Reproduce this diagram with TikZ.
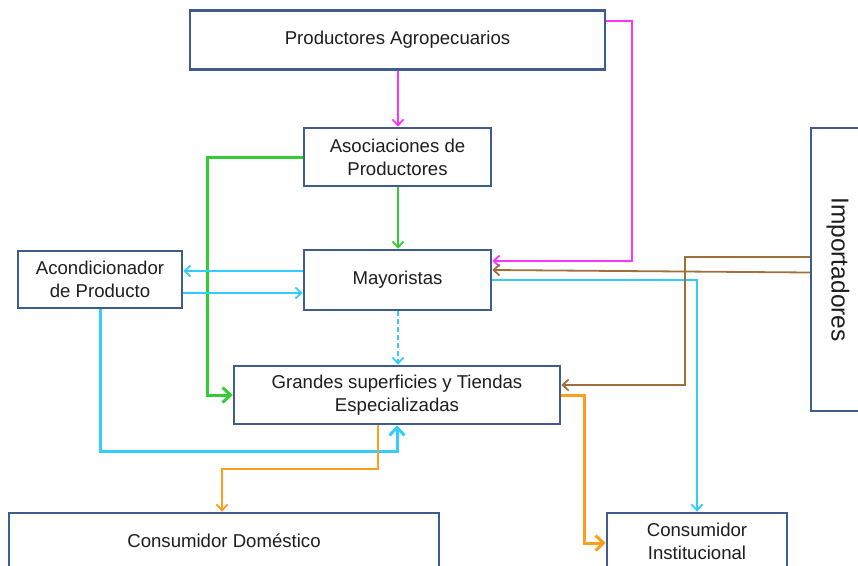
\documentclass[tikz,border=0pt]{standalone}
\usepackage{fontspec}
\setmainfont{Liberation Sans}
\usetikzlibrary{arrows.meta}
\definecolor{boxline}{RGB}{62,92,140}
\definecolor{txt}{RGB}{30,30,30}
\definecolor{mag}{RGB}{255,51,255}
\definecolor{grn}{RGB}{51,204,51}
\definecolor{cyn}{RGB}{51,204,255}
\definecolor{brn}{RGB}{160,112,60}
\definecolor{org}{RGB}{255,158,28}
\tikzset{
  box/.style={draw=boxline, line width=2.5pt, fill=white, text=txt,
    align=center, inner sep=0pt, font=\fontsize{18.6}{23}\selectfont},
  thinline/.style={line width=1.8pt, -{Straight Barb[length=6pt,width=11pt]}},
  thickline/.style={line width=3pt, -{Straight Barb[length=8pt,width=15pt]}},
}
\begin{document}
\begin{tikzpicture}[x=1pt,y=-1pt]
\useasboundingbox (0,0) rectangle (858,565);

% organisations
\node[box, minimum width=415pt, minimum height=59pt] (prod) at (397.5,40) {Productores Agropecuarios};
\node[box, minimum width=187pt, minimum height=58pt] (asoc) at (397.5,157) {Asociaciones de\\Productores};
\node[box, minimum width=187pt, minimum height=60pt] (may) at (397.5,280) {Mayoristas};
\node[box, minimum width=164pt, minimum height=57pt] (acon) at (100,279.5) {Acondicionador\\de Producto};
\node[box, minimum width=326pt, minimum height=58pt] (gran) at (397,395) {Grandes superficies y Tiendas\\Especializadas};
\node[box, minimum width=54pt, minimum height=283pt] (imp) at (838,269.5) {};
\node[text=txt, font=\fontsize{24.5}{29}\selectfont, rotate=-90] (implabel) at (imp.center) {Importadores};
\node[box, minimum width=430pt, minimum height=56pt] (condom) at (224,541) {Consumidor Doméstico};
\node[box, minimum width=180pt, minimum height=56pt] (coninst) at (697,541) {Consumidor\\Institucional};

% producers
\draw[thinline, mag] ([xshift=0.5pt]prod.south) -- ([xshift=0.5pt]asoc.north);
\draw[thinline, mag] ([yshift=19pt]prod.east) -- ++(25.5,0) |- ([yshift=19pt]may.east);

% associations
\draw[thinline, grn] ([xshift=0.5pt]asoc.south) -- ([xshift=0.5pt]may.north);
\draw[thickline, grn] (asoc.west) -- ++(-95,0) |- (gran.west);

% wholesalers and conditioning
\draw[thinline, cyn] ([yshift=9pt]may.west) -- ([yshift=9pt]may.west -| acon.east);
\draw[thinline, cyn] ([yshift=-13.5pt]acon.east) -- ([yshift=-13.5pt]acon.east -| may.west);
\draw[thinline, cyn, dash pattern=on 5pt off 3pt] ([xshift=0.5pt]may.south) -- ([xshift=1pt]gran.north);
\draw[thinline, cyn] (may.east) -| (coninst.north);
\draw[thickline, cyn] (acon.south) -- ++(0,142) -| (gran.south);

% importers
\draw[thinline, brn] ([yshift=12.5pt]imp.west) -- ++(-125,0) |- ([yshift=10pt]gran.east);
\draw[thinline, brn] ([yshift=-3pt]imp.west) -- ([yshift=10pt]may.east);

% retail to consumers
\draw[thinline, org] ([xshift=-19pt]gran.south) -- ++(0,44) -| ([xshift=-2pt]condom.north);
\draw[thickline, org] ([yshift=-0.5pt]gran.east) -- ++(23,0) |- ([yshift=-2pt]coninst.west);
\end{tikzpicture}
\end{document}
